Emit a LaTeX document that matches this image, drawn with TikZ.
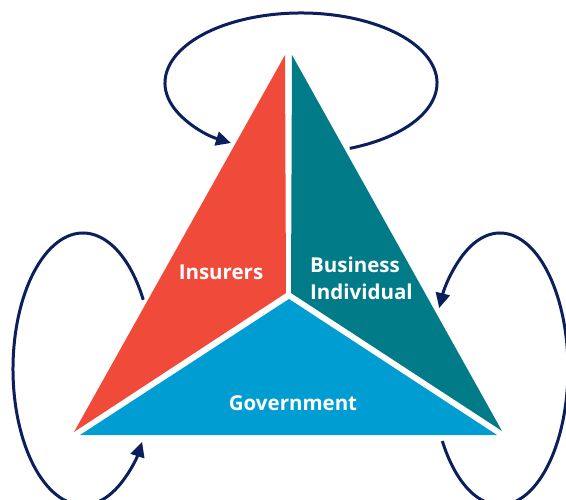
\documentclass[tikz,border=0pt]{standalone}
\usepackage{fontspec}
\setmainfont{Open Sans}
\usetikzlibrary{arrows.meta}
\definecolor{redI}{HTML}{F04A3A}
\definecolor{tealB}{HTML}{007B87}
\definecolor{blueG}{HTML}{009DD2}
\definecolor{navy}{HTML}{0A1F5C}
\tikzset{
  loopline/.style={draw=navy, line width=3pt},
  looparrow/.style={loopline, -{Triangle[length=15pt,width=14pt]}},
  lbl/.style={text=white, font=\fontsize{20.5}{24}\selectfont\bfseries, inner sep=0pt}
}
\begin{document}
\begin{tikzpicture}[x=1pt,y=-1pt]
\useasboundingbox (0,0) rectangle (566,500);
\clip (0,0) rectangle (566,500);
% triangle parts
\fill[redI]  (285,55) -- (286,293) -- (74,432) -- cycle;
\fill[tealB] (292,55) -- (502,431) -- (291,293) -- cycle;
\fill[blueG] (289,299) -- (497,435) -- (80,435) -- cycle;
% labels
\node[lbl, anchor=base] (ins) at (221,280) {Insurers};
\node[lbl, anchor=base west] (bus) at (310,273) {Business};
\node[lbl, anchor=base west] (ind) at (310,300) {Individual};
\node[lbl, anchor=base] (gov) at (293,410) {Government};
% loops
\coordinate (cT) at (301,83);
\coordinate (cL) at (83,369);
\coordinate (cR) at (500,369);
\draw[looparrow] ([shift={(69:136 and 70)}]cT) arc[start angle=69, end angle=-239, x radius=136, y radius=70];
\draw[looparrow] ([shift={(-30.6:70 and 136)}]cL) arc[start angle=-30.6, end angle=-327.6, x radius=70, y radius=136];
\draw[looparrow] ([shift={(148:68 and 136)}]cR) arc[start angle=148, end angle=-153.4, x radius=68, y radius=136];
\end{tikzpicture}
\end{document}
